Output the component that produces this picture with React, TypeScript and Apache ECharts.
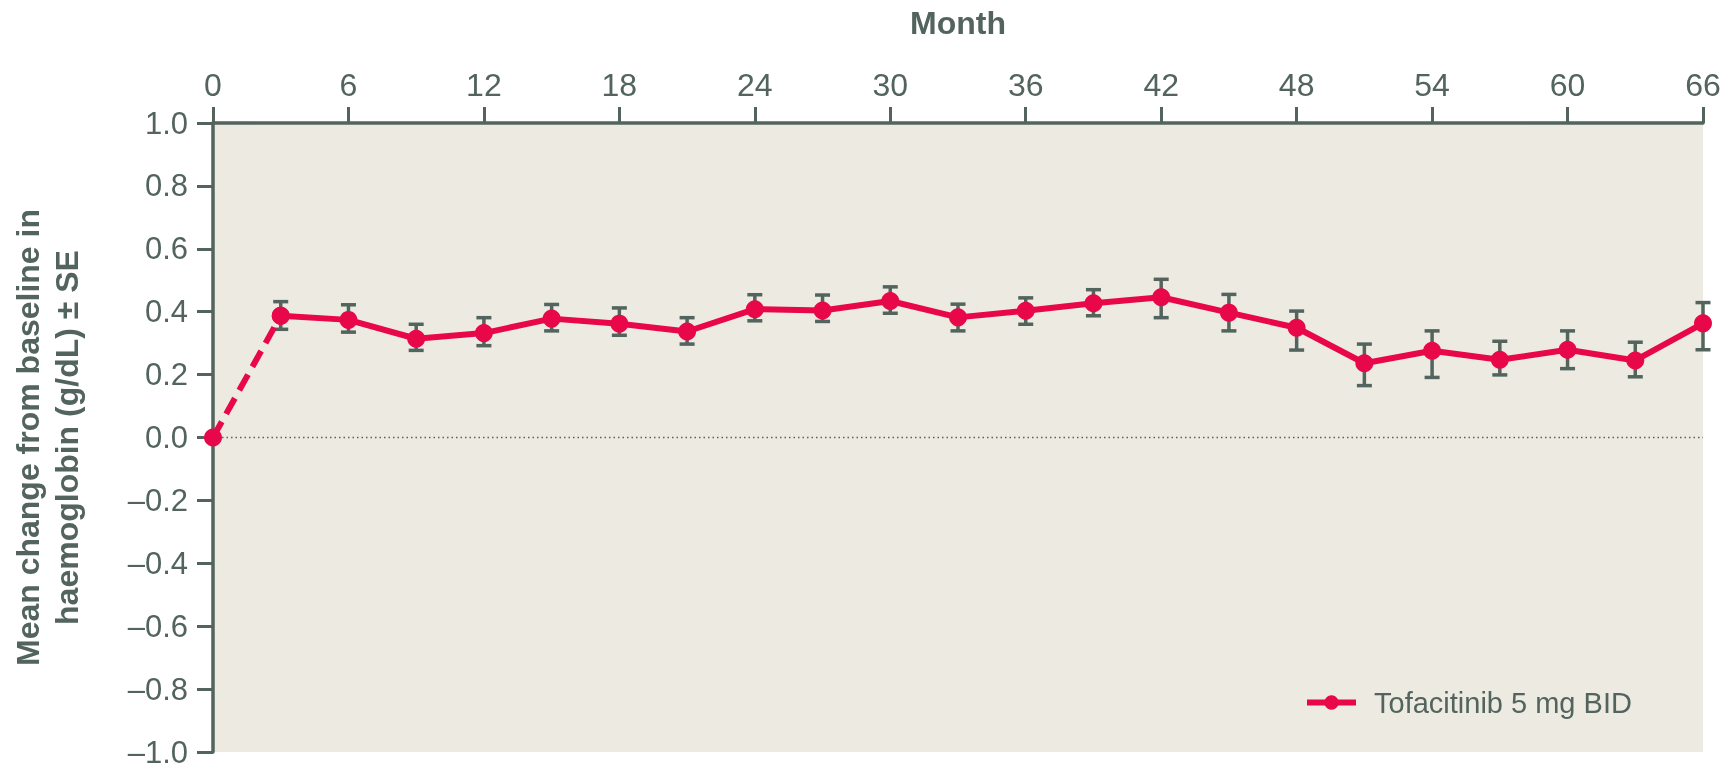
import React, { useEffect, useRef } from "react";
import * as echarts from "echarts";

const months = [0, 3, 6, 9, 12, 15, 18, 21, 24, 27, 30, 33, 36, 39, 42, 45, 48, 51, 54, 57, 60, 63, 66];
const meanChange = [0, 0.387, 0.374, 0.314, 0.332, 0.378, 0.362, 0.337, 0.408, 0.404, 0.434, 0.382, 0.403, 0.427, 0.446, 0.397, 0.349, 0.236, 0.276, 0.247, 0.279, 0.245, 0.363];
const seUpper = [null, 0.432, 0.422, 0.36, 0.381, 0.423, 0.412, 0.381, 0.454, 0.453, 0.479, 0.424, 0.444, 0.47, 0.503, 0.455, 0.402, 0.297, 0.339, 0.306, 0.339, 0.303, 0.429];
const seLower = [null, 0.344, 0.335, 0.277, 0.292, 0.339, 0.325, 0.297, 0.371, 0.369, 0.395, 0.339, 0.36, 0.387, 0.381, 0.339, 0.278, 0.165, 0.191, 0.199, 0.219, 0.193, 0.279];
const seriesName = "Tofacitinib 5 mg BID";
const xTitle = "Month";
const yTitle = "Mean change from baseline in\nhaemoglobin (g/dL) ± SE";

const TEXT = "#52645D";
const RED = "#E8084A";
const BG = "#EDEBE1";
const FONT = "'Liberation Sans', Arial, sans-serif";

export default function App() {
  const ref = useRef<HTMLDivElement>(null);
  useEffect(() => {
    if (!ref.current) return;
    const chart = echarts.init(ref.current, null, { renderer: "svg" });
    const solid = months.slice(1).map((m, i) => [m, meanChange[i + 1]]);
    const dashed = months.slice(0, 2).map((m, i) => [m, meanChange[i]]);
    const bars = months
      .map((m, i) => [m, seLower[i], seUpper[i]])
      .filter((d) => d[1] !== null && d[2] !== null);
    const zero = [
      [months[0], 0],
      [months[months.length - 1], 0],
    ];
    chart.setOption({
      animation: false,
      textStyle: { fontFamily: FONT },
      grid: {
        left: 209,
        top: 123,
        right: 33,
        bottom: 16,
        show: true,
        backgroundColor: BG,
        borderWidth: 0,
      },
      legend: {
        data: [seriesName],
        left: 1304,
        top: 688,
        padding: 0,
        itemWidth: 49,
        itemHeight: 18,
        lineStyle: { width: 6 },
        textStyle: { fontSize: 29, color: TEXT, fontFamily: FONT, padding: [0, 0, 0, 13] },
      },
      xAxis: {
        type: "value",
        position: "top",
        min: 0,
        max: 66,
        interval: 6,
        name: xTitle,
        nameLocation: "middle",
        nameGap: 84,
        nameTextStyle: { fontSize: 32, fontWeight: "bold", color: TEXT, fontFamily: FONT },
        axisLine: { show: true, onZero: false, lineStyle: { color: TEXT, width: 3.5 } },
        axisTick: { show: true, length: 16, lineStyle: { color: TEXT, width: 3 } },
        axisLabel: { fontSize: 32, color: TEXT, margin: 22, fontFamily: FONT },
        splitLine: { show: false },
      },
      yAxis: {
        type: "value",
        min: -1,
        max: 1,
        interval: 0.2,
        name: yTitle,
        nameLocation: "middle",
        nameGap: 127,
        nameTextStyle: {
          fontSize: 32,
          fontWeight: "bold",
          color: TEXT,
          fontFamily: FONT,
          lineHeight: 39,
          align: "center",
        },
        axisLine: { show: true, onZero: false, lineStyle: { color: TEXT, width: 3.5 } },
        axisTick: { show: true, length: 16, lineStyle: { color: TEXT, width: 3 } },
        axisLabel: {
          fontSize: 31,
          lineHeight: 26,
          color: TEXT,
          margin: 25,
          fontFamily: FONT,
          formatter: (v: number) => (v < -1e-9 ? "\u2013" : "") + Math.abs(v).toFixed(1),
        },
        splitLine: { show: false },
      },
      series: [
        {
          name: "zero",
          type: "line",
          data: zero,
          symbol: "none",
          silent: true,
          z: 1,
          lineStyle: { color: TEXT, width: 1.3, type: [1.5, 3] },
        },
        {
          name: "se",
          type: "custom",
          z: 2,
          silent: true,
          data: bars,
          encode: { x: 0, y: [1, 2] },
          renderItem: (params: any, api: any) => {
            const x = api.value(0);
            const lo = api.coord([x, api.value(1)]);
            const hi = api.coord([x, api.value(2)]);
            const half = 7.5;
            const style = { stroke: TEXT, lineWidth: 3.5 };
            return {
              type: "group",
              children: [
                { type: "line", shape: { x1: hi[0], y1: hi[1], x2: lo[0], y2: lo[1] }, style },
                { type: "line", shape: { x1: hi[0] - half, y1: hi[1], x2: hi[0] + half, y2: hi[1] }, style },
                { type: "line", shape: { x1: lo[0] - half, y1: lo[1], x2: lo[0] + half, y2: lo[1] }, style },
              ],
            };
          },
        },
        {
          name: "baseline",
          type: "line",
          data: dashed,
          z: 3,
          symbol: "circle",
          symbolSize: 18,
          itemStyle: { color: RED },
          lineStyle: { color: RED, width: 6, type: [18, 9] },
        },
        {
          name: seriesName,
          type: "line",
          data: solid,
          z: 4,
          symbol: "circle",
          symbolSize: 18,
          itemStyle: { color: RED },
          lineStyle: { color: RED, width: 6 },
        },
      ],
    });
    return () => chart.dispose();
  }, []);
  return (
    <div
      ref={ref}
      style={{ position: "fixed", left: 0, top: 0, width: 1736, height: 768 }}
    />
  );
}
